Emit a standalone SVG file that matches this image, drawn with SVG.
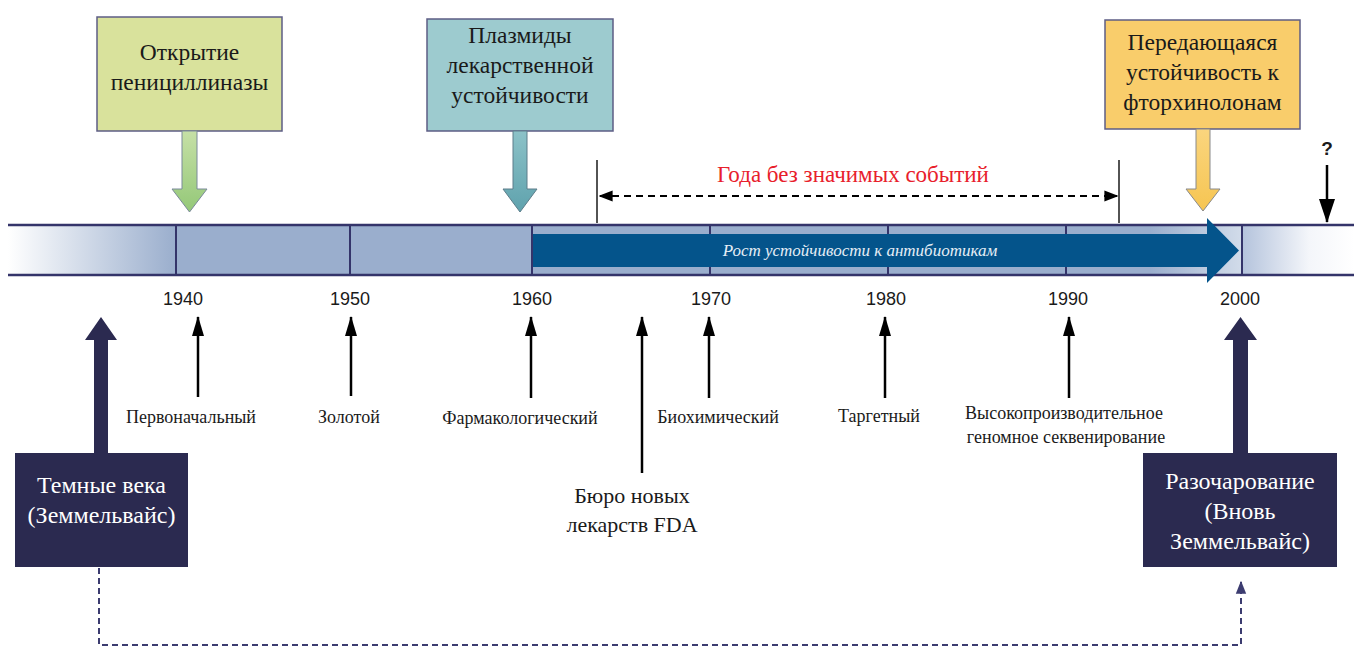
<svg xmlns="http://www.w3.org/2000/svg" width="1354" height="647" viewBox="0 0 1354 647">
<defs>
<style>
.box{stroke:#5d5d85;stroke-width:1.5}
.tb{font-family:"Liberation Serif","Tinos","Times New Roman","DejaVu Serif",serif;font-size:23.5px;fill:#1a1a1a;text-anchor:middle}
.wb{font-family:"Liberation Serif","Tinos","Times New Roman","DejaVu Serif",serif;font-size:24px;fill:#ffffff;text-anchor:middle}
.yr{font-family:"Liberation Sans","DejaVu Sans",sans-serif;font-size:18px;fill:#1a1a1a;text-anchor:middle}
.lb{font-family:"Liberation Serif","Tinos","Times New Roman","DejaVu Serif",serif;font-size:18px;fill:#1a1a1a;text-anchor:middle}
.fda{font-family:"Liberation Serif","Tinos","Times New Roman","DejaVu Serif",serif;font-size:22px;fill:#1a1a1a;text-anchor:middle}
.up{stroke:#000;stroke-width:2.5;fill:none;marker-end:url(#ah)}
.div{stroke:#34346a;stroke-width:2}
</style>
<marker id="ah" viewBox="0 0 20 12" refX="19" refY="6" markerWidth="20" markerHeight="12" orient="auto" markerUnits="userSpaceOnUse">
<path d="M0,0 L20,6 L0,12 Z" fill="#000"/>
</marker>
<marker id="ahq" viewBox="0 0 24 16" refX="23" refY="8" markerWidth="24" markerHeight="16" orient="auto" markerUnits="userSpaceOnUse">
<path d="M0,0 L24,8 L0,16 Z" fill="#000"/>
</marker>
<marker id="ahb" viewBox="0 0 10 10" refX="9" refY="5" markerWidth="13" markerHeight="13" orient="auto" markerUnits="userSpaceOnUse">
<path d="M0,1 L10,5 L0,9 Z" fill="#3c3c70"/>
</marker>
<marker id="ahs" viewBox="0 0 10 10" refX="1" refY="5" markerWidth="14" markerHeight="14" orient="auto" markerUnits="userSpaceOnUse">
<path d="M10,1 L0,5 L10,9 Z" fill="#000"/>
</marker>
<marker id="ahe" viewBox="0 0 10 10" refX="9" refY="5" markerWidth="14" markerHeight="14" orient="auto" markerUnits="userSpaceOnUse">
<path d="M0,1 L10,5 L0,9 Z" fill="#000"/>
</marker>
<linearGradient id="gl" x1="0" y1="0" x2="1" y2="0">
<stop offset="0" stop-color="#ffffff"/>
<stop offset="1" stop-color="#9aaecd"/>
</linearGradient>
<linearGradient id="gr" x1="0" y1="0" x2="1" y2="0">
<stop offset="0" stop-color="#b4c3dc"/>
<stop offset="0.6" stop-color="#f4f6fa"/>
<stop offset="1" stop-color="#ffffff"/>
</linearGradient>
<linearGradient id="gfade" x1="0" y1="0" x2="1" y2="0">
<stop offset="0" stop-color="#9aaecd"/>
<stop offset="1" stop-color="#d2dcea"/>
</linearGradient>
<linearGradient id="ggreen" x1="0" y1="0" x2="0" y2="1">
<stop offset="0" stop-color="#c6e0a6"/>
<stop offset="1" stop-color="#94c878"/>
</linearGradient>
<linearGradient id="gteal" x1="0" y1="0" x2="0" y2="1">
<stop offset="0" stop-color="#8cc2c8"/>
<stop offset="1" stop-color="#5fa2ad"/>
</linearGradient>
<linearGradient id="gyel" x1="0" y1="0" x2="0" y2="1">
<stop offset="0" stop-color="#fad57e"/>
<stop offset="1" stop-color="#f6c552"/>
</linearGradient>
</defs>
<rect width="1354" height="647" fill="#ffffff"/>

<g id="timeline">
<rect x="8" y="225" width="1346" height="50" fill="#9aaecd"/>
<rect x="8" y="225" width="168" height="50" fill="url(#gl)"/>
<rect x="1150" y="225" width="92" height="50" fill="url(#gfade)"/>
<rect x="1242" y="225" width="112" height="50" fill="url(#gr)"/>
<line class="div" x1="176" y1="225" x2="176" y2="275"/>
<line class="div" x1="350" y1="225" x2="350" y2="275"/>
<line class="div" x1="532" y1="225" x2="532" y2="275"/>
<line class="div" x1="710" y1="225" x2="710" y2="275"/>
<line class="div" x1="888" y1="225" x2="888" y2="275"/>
<line class="div" x1="1066" y1="225" x2="1066" y2="275"/>
<line class="div" x1="1242" y1="225" x2="1242" y2="275"/>
<line x1="8" y1="225" x2="1354" y2="225" stroke="#34346a" stroke-width="2.5"/>
<line x1="8" y1="275" x2="1354" y2="275" stroke="#34346a" stroke-width="2.5"/>
</g>

<g id="resistance-arrow">
<path d="M533,234 L1207,234 L1207,218 L1239,250.5 L1207,283 L1207,267 L533,267 Z" fill="#04548b"/>
<text x="860" y="256" font-family="'Liberation Serif','Tinos','Times New Roman','DejaVu Serif',serif" font-style="italic" font-size="17" fill="#e6eef6" text-anchor="middle">Рост устойчивости к антибиотикам</text>
</g>

<g id="years">
<text class="yr" x="183" y="305">1940</text>
<text class="yr" x="350" y="305">1950</text>
<text class="yr" x="532" y="305">1960</text>
<text class="yr" x="711" y="305">1970</text>
<text class="yr" x="886" y="305">1980</text>
<text class="yr" x="1068" y="305">1990</text>
<text class="yr" x="1240" y="305">2000</text>
</g>

<g id="penicillinase">
<rect class="box" x="97" y="17" width="185" height="114" fill="#d9e29c"/>
<text class="tb" x="189.5" y="60">Открытие</text>
<text class="tb" x="189.5" y="90">пенициллиназы</text>
<path d="M182,131 L197,131 L197,189 L207,189 L189.5,212 L172,189 L182,189 Z" fill="url(#ggreen)" stroke="#7b8a9a" stroke-width="1"/>
</g>

<g id="plasmids">
<rect class="box" x="427" y="19" width="186" height="112" fill="#9dcbcf"/>
<text class="tb" x="520" y="43">Плазмиды</text>
<text class="tb" x="520" y="73">лекарственной</text>
<text class="tb" x="520" y="103">устойчивости</text>
<path d="M513,131 L527,131 L527,189 L537,189 L520,212 L503,189 L513,189 Z" fill="url(#gteal)" stroke="#5d7d8a" stroke-width="1"/>
</g>

<g id="fluoroquinolones">
<rect class="box" x="1105" y="20" width="195" height="109" fill="#f9cd6b"/>
<text class="tb" x="1202.5" y="50">Передающаяся</text>
<text class="tb" x="1202.5" y="80">устойчивость к</text>
<text class="tb" x="1202.5" y="110">фторхинолонам</text>
<path d="M1196,129 L1210,129 L1210,189 L1220,189 L1203,211 L1186,189 L1196,189 Z" fill="url(#gyel)" stroke="#8a8a8a" stroke-width="1"/>
</g>

<g id="quiet-years">
<line x1="597" y1="160" x2="597" y2="223" stroke="#1a1a1a" stroke-width="1.5"/>
<line x1="1119" y1="160" x2="1119" y2="223" stroke="#1a1a1a" stroke-width="1.5"/>
<text x="853" y="182" font-family="'Liberation Serif','Tinos','Times New Roman','DejaVu Serif',serif" font-size="23" fill="#e8202b" text-anchor="middle">Года без значимых событий</text>
</g>

<g id="future">
<text x="1327" y="155" font-family="'Liberation Sans','DejaVu Sans',sans-serif" font-size="19" font-weight="bold" fill="#1a1a1a" text-anchor="middle">?</text>
</g>

<g id="dark-ages">
<rect x="15" y="453" width="173" height="114" fill="#2b2a50"/>
<text class="wb" x="101.5" y="493">Темные века</text>
<text class="wb" x="101.5" y="523">(Земмельвайс)</text>
<path d="M94,453 L94,340 L85,340 L101,317 L117,340 L108,340 L108,453 Z" fill="#2b2a50"/>
</g>

<g id="disillusion">
<rect x="1143" y="453" width="194" height="114" fill="#2b2a50"/>
<text class="wb" x="1240" y="489">Разочарование</text>
<text class="wb" x="1240" y="519">(Вновь</text>
<text class="wb" x="1240" y="549">Земмельвайс)</text>
<path d="M1233,453 L1233,340 L1224,340 L1240.5,317 L1257,340 L1248,340 L1248,453 Z" fill="#2b2a50"/>
</g>

<g id="era-labels">
<text class="lb" x="191" y="423">Первоначальный</text>
<text class="lb" x="349" y="423">Золотой</text>
<text class="lb" x="520" y="424">Фармакологический</text>
<text class="lb" x="718" y="423">Биохимический</text>
<text class="lb" x="879" y="422">Таргетный</text>
<text class="lb" x="1064" y="419">Высокопроизводительное</text>
<text class="lb" x="1066" y="443">геномное секвенирование</text>
<text class="fda" x="632" y="503">Бюро новых</text>
<text class="fda" x="632" y="532">лекарств FDA</text>
</g>

<g id="connectors">
<line class="up" x1="198" y1="397" x2="198" y2="317"/>
<line class="up" x1="351" y1="396" x2="351" y2="317"/>
<line class="up" x1="531" y1="398" x2="531" y2="317"/>
<line class="up" x1="642" y1="473" x2="642" y2="317"/>
<line class="up" x1="709" y1="398" x2="709" y2="317"/>
<line class="up" x1="885" y1="398" x2="885" y2="317"/>
<line class="up" x1="1069" y1="398" x2="1069" y2="317"/>
<line x1="1327" y1="165" x2="1327" y2="222" stroke="#000" stroke-width="2.5" marker-end="url(#ahq)"/>
<line x1="600" y1="196" x2="1117" y2="196" stroke="#000" stroke-width="2" stroke-dasharray="7,5" marker-start="url(#ahs)" marker-end="url(#ahe)"/>
<path d="M99,568 V645 H1241 V582" fill="none" stroke="#3c3c70" stroke-width="2" stroke-dasharray="6,4" marker-end="url(#ahb)"/>
</g>
</svg>
